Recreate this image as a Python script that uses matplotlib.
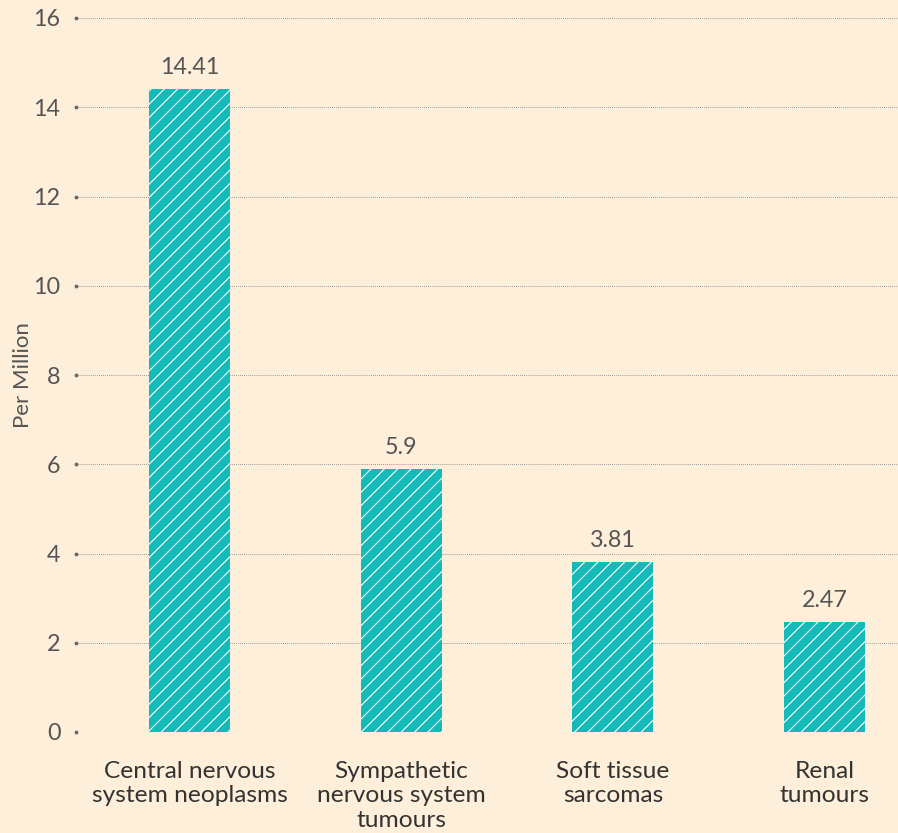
import matplotlib
matplotlib.use("Agg")
import matplotlib.pyplot as plt
import matplotlib.transforms as mtransforms

categories = ["Central nervous\nsystem neoplasms",
              "Sympathetic\nnervous system\ntumours",
              "Soft tissue\nsarcomas",
              "Renal\ntumours"]
values = [14.41, 5.9, 3.81, 2.47]
yticks = [0, 2, 4, 6, 8, 10, 12, 14, 16]

bg = "#FDEFD9"
teal = "#14BAB8"
txt = "#555555"

plt.rcParams['font.family'] = ['Lato', 'DejaVu Sans']
plt.rcParams['hatch.linewidth'] = 1.0

dpi = 80
fig = plt.figure(figsize=(898 / dpi, 833 / dpi), dpi=dpi, facecolor=bg)
ax = fig.add_axes([76 / 898, 101 / 833, 1 - 76 / 898, (815 - 101) / 833])
ax.set_facecolor(bg)

x = list(range(len(categories)))
bars = ax.bar(x, values, width=0.383, color=teal, hatch='//', edgecolor='white',
              linewidth=0, zorder=3)

for b, v in zip(bars, values):
    ax.text(b.get_x() + b.get_width() / 2, v + 0.25, f"{v:g}", ha='center',
            va='bottom', fontsize=21, color=txt)

ax.set_xlim(-0.536, 3.347)
ax.set_ylim(0, 16)
ax.set_yticks(yticks)
ax.set_xticks(x)
ax.set_xticklabels(categories, fontsize=22, color="#333333", linespacing=1.2)
ax.tick_params(axis='y', length=0, pad=14, labelsize=21, labelcolor=txt)
ax.tick_params(axis='x', length=0, pad=26)

for t in yticks:
    ax.axhline(t, color="#8a8a8a", linestyle=(0, (1, 1.3)), linewidth=0.8, zorder=1)
trans = mtransforms.blended_transform_factory(ax.transAxes, ax.transData)
ax.scatter([0] * len(yticks), yticks, s=6, color="#666666", transform=trans,
           zorder=2, clip_on=False)

for s in ax.spines.values():
    s.set_visible(False)

ax.set_ylabel("Per Million", fontsize=20, color=txt, labelpad=0)

fig.savefig("out.png", dpi=dpi, facecolor=bg)
